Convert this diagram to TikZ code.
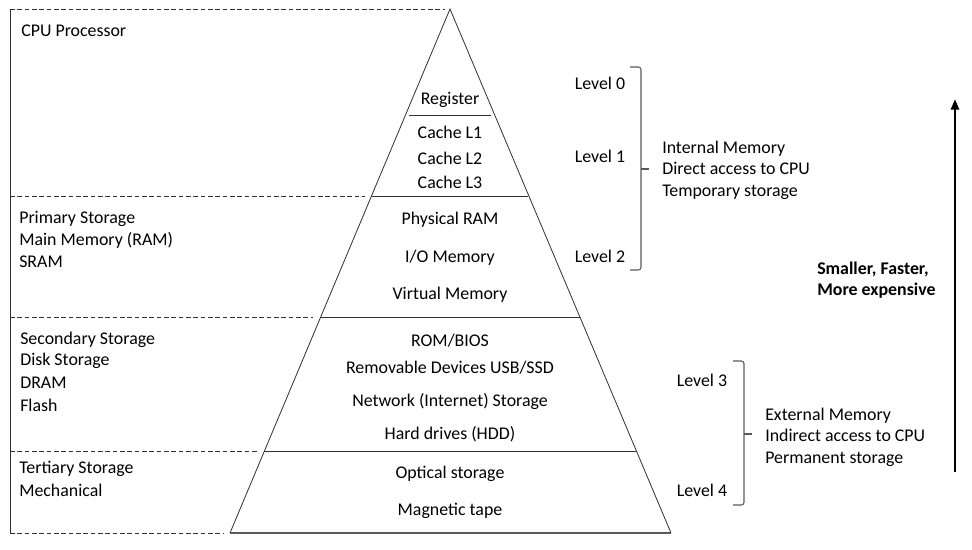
\documentclass[tikz,border=0pt]{standalone}
\usepackage{fontspec}
\setmainfont{Carlito}
\usepackage{tikz}
\usetikzlibrary{arrows.meta,calc,positioning}
\definecolor{LineGrey}{HTML}{303030}
\definecolor{BraceGrey}{HTML}{595959}

\begin{document}
\begin{tikzpicture}[x=0.75pt, y=-0.75pt, >=Stealth,
    font=\fontsize{13.4}{16.2}\selectfont,
    sidetext/.style={anchor=west, inner sep=0pt, yshift=-1.5pt},
    midtext/.style={anchor=center, inner sep=0pt, yshift=-1.5pt},
    leveltext/.style={anchor=center, inner sep=0pt, yshift=-1pt},
    sep/.style={LineGrey, line width=0.6pt},
    guide/.style={LineGrey, line width=0.6pt, dash pattern=on 3.5pt off 2pt},
    bracket/.style={BraceGrey, line width=0.8pt, rounded corners=2pt}]
    \useasboundingbox (0,0) rectangle (972,550);

    % Pyramid outline
    \coordinate (apex) at (450,9);
    \coordinate (baseL) at (230,533);
    \coordinate (baseR) at (671,533);
    \draw[LineGrey, line width=0.6pt] (baseL) -- (apex) -- (baseR);
    \draw[LineGrey!80, line width=1.2pt] (baseL) -- (baseR);

    % Tier separators
    \draw[sep] (409,115) -- (491,115);
    \draw[sep] (372,196) -- (528,196);
    \draw[sep] (320,317) -- (580,317);
    \draw[sep] (264,451) -- (636,451);

    % Left frame
    \draw[LineGrey, line width=0.6pt] (10,9) -- (10,533);
    \draw[guide] (10,9) -- (445,9);
    \draw[guide] (10,196) -- (365,196);
    \draw[guide] (10,317) -- (313,317);
    \draw[guide] (10,451) -- (257,451);
    \draw[guide] (10,533) -- (224,533);

    % Left labels
    \node[sidetext] (cpu) at (21,29) {CPU Processor};
    \node[sidetext] (prim) at (19,217) {Primary Storage};
    \node[sidetext] (mainmem) at (19,238) {Main Memory (RAM)};
    \node[sidetext] (sram) at (19,260) {SRAM};
    \node[sidetext] (sec) at (20,338) {Secondary Storage};
    \node[sidetext] (disk) at (20,359) {Disk Storage};
    \node[sidetext] (dram) at (20,381) {DRAM};
    \node[sidetext] (flash) at (20,403) {Flash};
    \node[sidetext] (tert) at (19,467) {Tertiary Storage};
    \node[sidetext] (mech) at (19,488) {Mechanical};

    % Pyramid contents
    \node[midtext] (reg) at (450,98) {Register};
    \node[midtext] (cl1) at (450,130) {Cache L1};
    \node[midtext] (cl2) at (450,156) {Cache L2};
    \node[midtext] (cl3) at (450,180) {Cache L3};
    \node[midtext] (pram) at (450,218) {Physical RAM};
    \node[midtext] (iomem) at (450,256) {I/O Memory};
    \node[midtext] (vmem) at (450,293) {Virtual Memory};
    \node[midtext] (rom) at (450,339) {ROM/BIOS};
    \node[midtext] (usb) at (450,366) {Removable Devices USB/SSD};
    \node[midtext] (net) at (450,399) {Network (Internet) Storage};
    \node[midtext] (hdd) at (450,432) {Hard drives (HDD)};
    \node[midtext] (opt) at (450,472) {Optical storage};
    \node[midtext] (tape) at (450,509) {Magnetic tape};

    % Levels
    \node[leveltext] (lv0) at (600,82) {Level 0};
    \node[leveltext] (lv1) at (600,155) {Level 1};
    \node[leveltext] (lv2) at (600,255) {Level 2};
    \node[leveltext] (lv3) at (702,379) {Level 3};
    \node[leveltext] (lv4) at (702,489) {Level 4};

    % Internal memory bracket
    \coordinate (intop) at (630,67);
    \coordinate (intip) at (649,169);
    \coordinate (inbot) at (630,270);
    \draw[bracket] (intop) -- (641,67) -- (641,169) -- (641,270) -- (inbot);
    \draw[bracket] (641,169) -- (intip);
    \node[sidetext, align=left] (intmem) at (662,168)
        {Internal Memory\\Direct access to CPU\\Temporary storage};

    % External memory bracket
    \coordinate (extop) at (733,361);
    \coordinate (extip) at (752,434);
    \coordinate (exbot) at (733,505);
    \draw[bracket] (extop) -- (744,361) -- (744,505) -- (exbot);
    \draw[bracket] (744,434) -- (extip);
    \node[sidetext, align=left] (extmem) at (765,435)
        {External Memory\\Indirect access to CPU\\Permanent storage};

    % Trend arrow
    \node[sidetext, align=left, font=\fontsize{13.4}{16.2}\selectfont\bfseries] (trend) at (817,278)
        {Smaller, Faster,\\More expensive};
    \coordinate (arrlow) at (955,472);
    \coordinate (arrhigh) at (955,99);
    \draw[-{Triangle[length=8pt, width=6pt]}, line width=2.2pt] (arrlow) -- (arrhigh);

\end{tikzpicture}
\end{document}
